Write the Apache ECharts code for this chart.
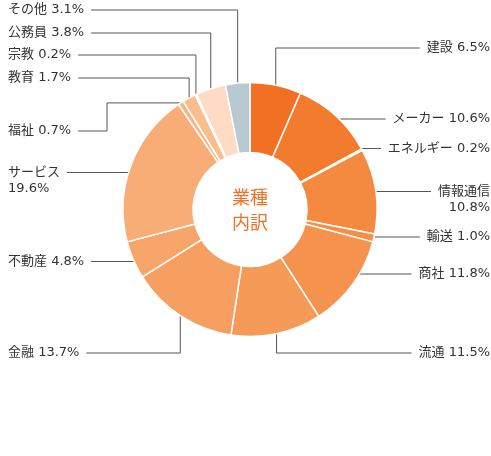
<!DOCTYPE html>
<html>
<head>
<meta charset="utf-8">
<script src="https://cdn.jsdelivr.net/npm/echarts@6/dist/echarts.min.js"></script>
<style>
  html, body { margin: 0; padding: 0; background: #fff; }
  #chart { width: 491px; height: 456px; }
</style>
</head>
<body>
<div id="chart"></div>
<script>
// data
const categories = ['建設', 'メーカー', 'エネルギー', '情報通信', '輸送', '商社', '流通', '金融', '不動産', 'サービス', '福祉', '教育', '宗教', '公務員', 'その他']
const values = [6.5, 10.6, 0.2, 10.8, 1.0, 11.8, 11.5, 13.7, 4.8, 19.6, 0.7, 1.7, 0.2, 3.8, 3.1]
const colors = ['#f27024', '#f37b2e', '#f38236', '#f48a40', '#f58f48', '#f5934e', '#f69a58', '#f79f60', '#f7a568', '#f8ac76', '#f9b582', '#fabd8d', '#fbc8a0', '#fddbc4', '#b8c9d2']
const wrapNames = ['情報通信', 'サービス']

// label placement (y of leader line end, per slice)
const labelLineY = [48, 119, 148.5, 191.5, 237, 274, 353, 353, 261.5, 172.5, 131, 78, 55, 33, 10]
const bendX = { 10: 107 }

const cx = 250, cy = 209.5, r0 = 57, r1 = 127
const lineH = 16
const total = values.reduce((a, b) => a + b, 0)

const midAngles = []
let acc = 0
values.forEach(v => {
    midAngles.push((acc + v / 2) / total * Math.PI * 2)
    acc += v
})

const chart = echarts.init(document.getElementById('chart'))

const option = {
    animation: false,
    textStyle: {
        fontFamily: '"DejaVu Sans", "Noto Sans CJK JP", sans-serif'
    },
    graphic: [
        {
            type: 'text',
            x: cx,
            y: cy,
            style: {
                text: '業種\n内訳',
                fill: '#f07225',
                fontSize: 18,
                lineHeight: 25,
                fontFamily: '"Noto Sans CJK JP", sans-serif',
                textAlign: 'center',
                textVerticalAlign: 'middle'
            }
        }
    ],
    series: [
        {
            type: 'pie',
            center: [cx, cy],
            radius: [r0, r1],
            startAngle: 90,
            clockwise: true,
            avoidLabelOverlap: false,
            emphasis: { disabled: true },
            itemStyle: {
                borderColor: '#fff',
                borderWidth: 1.5
            },
            label: {
                show: true,
                position: 'outside',
                color: '#333',
                fontSize: 13,
                lineHeight: lineH,
                fontFamily: '"DejaVu Sans", "Noto Sans CJK JP", sans-serif',
                formatter: function (p) {
                    const sep = wrapNames.indexOf(p.name) >= 0 ? '\n' : ' '
                    return p.name + sep + p.value.toFixed(1) + '%'
                }
            },
            labelLine: {
                show: true,
                lineStyle: { color: '#555', width: 1 }
            },
            labelLayout: function (params) {
                const i = params.dataIndex
                const a = midAngles[i]
                const px = cx + r1 * Math.sin(a)
                const py = cy - r1 * Math.cos(a)
                const ly = labelLineY[i]
                const right = a < Math.PI
                const w = params.labelRect.width
                const endX = right ? 490 - w - 7 : 8 + w + 7
                let pts
                if (bendX[i] !== undefined) {
                    pts = [[px, py], [bendX[i], py], [bendX[i], ly], [endX, ly]]
                } else if (Math.abs(ly - cy) >= r1) {
                    pts = [[px, py], [px, ly], [endX, ly]]
                } else {
                    const dx = Math.sqrt(r1 * r1 - (ly - cy) * (ly - cy))
                    const sx = right ? cx + dx : cx - dx
                    pts = [[sx, ly], [endX, ly]]
                }
                return {
                    x: right ? 490 : 8,
                    y: ly - lineH / 2,
                    align: right ? 'right' : 'left',
                    verticalAlign: 'top',
                    labelLinePoints: pts
                }
            },
            data: categories.map((name, i) => ({
                name: name,
                value: values[i],
                itemStyle: { color: colors[i] }
            }))
        }
    ]
}

chart.setOption(option)
</script>
</body>
</html>
